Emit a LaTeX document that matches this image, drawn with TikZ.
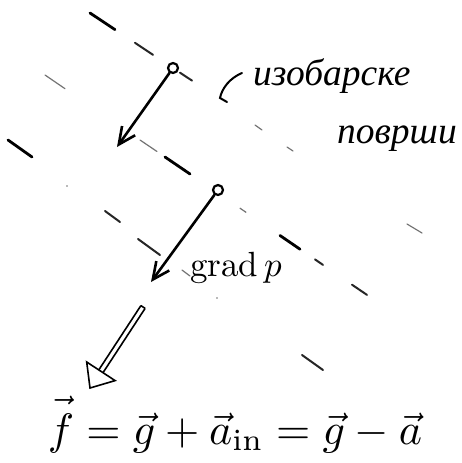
\documentclass[tikz,border=0pt]{standalone}
\usepackage{graphicx}
\usepackage{fontspec}
\newfontfamily\cyrfont{Liberation Serif}
\usetikzlibrary{arrows.meta,calc}
\begin{document}
\begin{tikzpicture}[x=1pt,y=-1pt,
  isothick/.style={line width=2.8pt, line cap=round},
  isomed/.style={line width=2pt, line cap=round, black!85},
  isothin/.style={line width=1.2pt, line cap=round, black!55},
  gradarrow/.style={line width=2.6pt, line cap=round, -{Straight Barb[length=17pt,width=16pt,line width=2.6pt]}},
  startdot/.style={circle, draw, line width=2.2pt, minimum size=10pt, inner sep=0pt},
  hollow/.style={line width=1.6pt, line join=miter},
  labtext/.style={anchor=base west, inner sep=0pt, font=\fontsize{37.5}{40}\selectfont\cyrfont\itshape}]
\useasboundingbox (0,0) rectangle (462,463);
% isobaric surfaces (line A)
\draw[isothick] (90,13) -- (115,29.6);
\draw[isomed] (135,42.8) -- (153,54.8);
\draw[isomed] (180,72.7) -- (192,80.6);
\draw[isothin] (255,125) -- (262,130);
\draw[isothin] (287,147) -- (293,151);
\draw[isothin] (407,224) -- (422,233);
% line B
\draw[isothin] (45,75) -- (65,88.7);
\draw[isothin] (140,140) -- (157,151.5);
\draw[isothick] (165,157) -- (190,174);
\draw[isothin] (240,208.2) -- (246,212.3);
\draw[isothick] (280,235.5) -- (300,249.2);
\draw[isomed] (315,259.4) -- (323,264.9);
\draw[isomed] (352,284.7) -- (367,294.9);
% line C
\draw[isothick] (8,140) -- (32,157);
\fill[black!55] (67,186) circle (0.9pt);
\draw[isomed] (105,211) -- (120,222);
\draw[isomed] (138,239) -- (160,255);
\draw[isothin] (182,270) -- (190,276);
\fill[black!55] (217,298) circle (0.9pt);
\draw[isomed] (302,355) -- (323,370);
% gradient arrows
\node[startdot] (s1) at (173,68) {};
\coordinate (t1) at (117,147);
\draw[gradarrow] (s1) -- (t1);
\node[startdot] (s2) at (218,190) {};
\coordinate (t2) at (151,282);
\draw[gradarrow] (s2) -- (t2);
\node[anchor=base west, inner sep=0pt] (grad) at (190,276) {\scalebox{3.5}{$\mathrm{grad}\,p$}};
% label
\node[labtext] (lab1) at (253,85) {изобарске};
\node[labtext] (lab2) at (337,143) {површи};
\coordinate (h1) at (242,73);
\coordinate (h2) at (220,98);
\coordinate (h3) at (227,102);
\draw[line width=2pt, line cap=round] (h1) .. controls (230,78) and (222,88) .. (h2) -- (h3);
% hollow arrow
\coordinate (ht) at (143,307);
\coordinate (hb) at (100.9,371.3);
\coordinate (tip) at (90,388);
\draw[hollow] ($(ht)+(2.1,1.4)$) -- ($(hb)+(2.1,1.4)$);
\draw[hollow] ($(ht)-(2.1,1.4)$) -- ($(hb)-(2.1,1.4)$);
\draw[hollow] ($(ht)+(2.1,1.4)$) -- ($(ht)-(2.1,1.4)$);
\draw[hollow] (tip) -- (115.1,380.6) -- (86.7,362) -- cycle;
% formula
\node[anchor=base, inner sep=0pt] (eq) at (235,444) {\scalebox{4.4}{$\vec{\rule{0pt}{8pt}f} = \vec{g} + \vec{a}_{\mathrm{in}} = \vec{g} - \vec{a}$}};
\end{tikzpicture}
\end{document}
